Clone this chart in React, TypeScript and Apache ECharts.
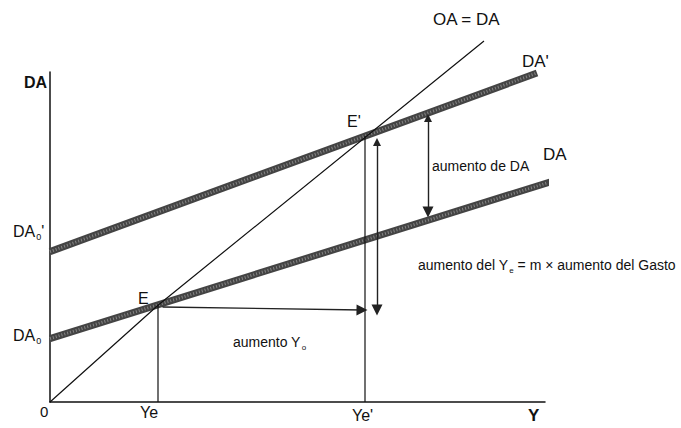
import React, { useEffect, useRef } from "react";
import * as echarts from "echarts";

// ---- data (abstract diagram units) ----
const xRange = [0, 99];
const yRange = [0, 82.5];
const incomeTicks = [0, 21.6, 63]; // 0, Ye, Ye'
const incomeTickLabels = ["0", "Ye", "Ye'"];
const daLine = [[0, 15.85], [100, 55]];
const daPrimeLine = [[0, 37.6], [97.4, 82.25]];
const oaLine = [[0, 0], [21.6, 24.2], [86.8, 90.25]];
const yeDrop = [[21.6, 0], [21.6, 24.3]];
const yePrimeDrop = [[63, 0], [63, 66.5]];
const incomeArrow = [[22.5, 23.75], [62.4, 23.0]];
const multiplierArrow = [[65.4, 65], [65.4, 23]];
const spendingArrow = [[75.6, 71], [75.6, 47.5]];

const FONT = "'Liberation Sans', Arial, sans-serif";

function txt(text: string, left: number, top: number, size: number, extra: any = {}) {
  return {
    type: "text",
    left,
    top,
    silent: true,
    style: { text, fontSize: size, fontFamily: FONT, fill: "#111", ...extra },
  };
}

function subTxt(main: string, sub: string, tail: string, left: number, top: number, size: number, subSize: number) {
  return {
    type: "text",
    left,
    top,
    silent: true,
    style: {
      text: `${main}{s|${sub}}${tail}`,
      fontSize: size,
      fontFamily: FONT,
      fill: "#111",
      lineHeight: size + 4,
      rich: {
        s: { fontSize: subSize, fontFamily: FONT, fill: "#111", verticalAlign: "bottom", lineHeight: size + 4, padding: [0, 0, 0, 1] },
      },
    },
  };
}

function thinLine(data: number[][], width = 1.2) {
  return {
    type: "line",
    data,
    showSymbol: false,
    symbol: "none",
    clip: false,
    silent: true,
    lineStyle: { color: "#111", width },
    z: 3,
  };
}

function thickLine(data: number[][]) {
  return [
    {
      type: "line",
      data,
      showSymbol: false,
      symbol: "none",
      clip: false,
      silent: true,
      lineStyle: { color: "#444", width: 7, cap: "butt" },
      z: 2,
    },
    {
      type: "line",
      data,
      showSymbol: false,
      symbol: "none",
      clip: false,
      silent: true,
      lineStyle: { color: "rgba(255,255,255,0.35)", width: 3, type: [1, 2], cap: "butt" },
      z: 2,
    },
  ];
}

function arrow(coords: number[][], both: boolean) {
  return {
    type: "lines",
    coordinateSystem: "cartesian2d",
    silent: true,
    z: 4,
    symbol: [both ? "triangle" : "none", "triangle"],
    symbolSize: [8, 11],
    lineStyle: { color: "#222", width: 1.4, opacity: 1 },
    data: [{ coords }],
  };
}

export default function App() {
  const ref = useRef<HTMLDivElement>(null);
  useEffect(() => {
    if (!ref.current) return;
    const chart = echarts.init(ref.current, undefined, { renderer: "svg" });
    chart.setOption({
      animation: false,
      backgroundColor: "#ffffff",
      grid: { left: 50, top: 72, width: 495, height: 330 },
      xAxis: {
        type: "value",
        min: xRange[0],
        max: xRange[1],
        axisLine: { show: true, lineStyle: { color: "#111", width: 1.5 } },
        axisTick: { show: false },
        axisLabel: { show: false },
        splitLine: { show: false },
      },
      yAxis: {
        type: "value",
        min: yRange[0],
        max: yRange[1],
        axisLine: { show: true, lineStyle: { color: "#111", width: 1.5 } },
        axisTick: { show: false },
        axisLabel: { show: false },
        splitLine: { show: false },
      },
      series: [
        thinLine(oaLine),
        ...thickLine(daLine),
        ...thickLine(daPrimeLine),
        thinLine(yeDrop),
        thinLine(yePrimeDrop),
        arrow(incomeArrow, false),
        arrow(multiplierArrow, true),
        arrow(spendingArrow, true),
      ],
      graphic: [
        txt("OA = DA", 433, 11, 17),
        txt("DA'", 522, 53, 17),
        txt("DA", 543, 146, 17),
        txt("DA", 24, 74, 16, { fontWeight: "bold" }),
        subTxt("DA", "0", "'", 13, 221, 16, 9),
        subTxt("DA", "0", "", 13, 325, 16, 9),
        txt("E", 138, 290, 16),
        txt("E'", 347, 113, 16),
        txt(incomeTickLabels[0], 40, 404, 15),
        txt(incomeTickLabels[1], 140, 404, 16),
        txt(incomeTickLabels[2], 352, 407, 16),
        txt("Y", 528, 407, 17, { fontWeight: "bold" }),
        txt("aumento de DA", 432, 159, 14),
        subTxt("aumento Y", "o", "", 233, 333, 14, 8),
        subTxt("aumento del Y", "e", " = m × aumento del Gasto", 418, 256, 14, 8),
      ],
    });
    return () => chart.dispose();
  }, []);
  return <div ref={ref} style={{ position: "absolute", left: 0, top: 0, width: 681, height: 428 }} />;
}
